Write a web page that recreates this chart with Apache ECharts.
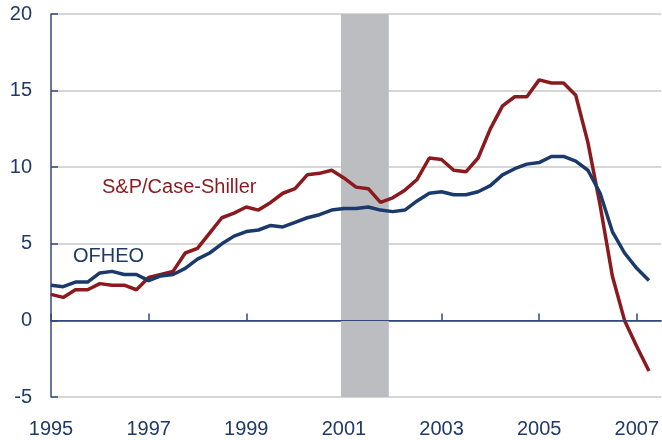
<!DOCTYPE html>
<html>
<head>
<meta charset="utf-8">
<script src="https://cdn.jsdelivr.net/npm/echarts@6/dist/echarts.min.js"></script>
<style>
  html, body { margin: 0; padding: 0; background: #fff; }
  #chart { width: 662px; height: 440px; }
</style>
</head>
<body>
<div id="chart"></div>
<script>
// quarterly, 1995Q1 .. 2007Q2
const startYear = 1995
const caseShiller = [
  1.7, 1.5, 2.0, 2.0, 2.4, 2.3, 2.3, 2.0,
  2.8, 3.0, 3.2, 4.4, 4.7, 5.7, 6.7, 7.0,
  7.4, 7.2, 7.7, 8.3, 8.6, 9.5, 9.6, 9.8,
  9.3, 8.7, 8.6, 7.7, 8.0, 8.5, 9.2, 10.6,
  10.5, 9.8, 9.7, 10.6, 12.5, 14.0, 14.6, 14.6,
  15.7, 15.5, 15.5, 14.7, 11.6, 7.5, 2.9, 0.0,
  -1.7, -3.3
]
const ofheo = [
  2.3, 2.2, 2.5, 2.5, 3.1, 3.2, 3.0, 3.0,
  2.6, 2.9, 3.0, 3.4, 4.0, 4.4, 5.0, 5.5,
  5.8, 5.9, 6.2, 6.1, 6.4, 6.7, 6.9, 7.2,
  7.3, 7.3, 7.4, 7.2, 7.1, 7.2, 7.8, 8.3,
  8.4, 8.2, 8.2, 8.4, 8.8, 9.5, 9.9, 10.2,
  10.3, 10.7, 10.7, 10.4, 9.8, 8.3, 5.8, 4.4,
  3.4, 2.6
]
const yearTicks = [1995, 1997, 1999, 2001, 2003, 2005, 2007]
const recession = [2000.94, 2001.92]

const axisColor = '#34497a'
const textColor = '#1f3a68'
const red = '#8b1a1f'
const blue = '#1b3a6b'

const toPoints = arr => arr.map((v, i) => [startYear + i / 4, v])

const chart = echarts.init(document.getElementById('chart'))
chart.setOption({
  animation: false,
  grid: { left: 51, right: 0, top: 14, bottom: 43 },
  xAxis: {
    type: 'value',
    min: 1995,
    max: 2007.5,
    axisLine: { lineStyle: { color: axisColor, width: 1.5 } },
    axisTick: {
      show: true,
      inside: true,
      length: 7,
      customValues: yearTicks,
      lineStyle: { color: axisColor, width: 1.5 }
    },
    axisLabel: {
      customValues: yearTicks,
      formatter: v => String(v),
      margin: 22,
      fontSize: 20,
      fontFamily: 'Liberation Sans',
      color: textColor
    },
    splitLine: { show: false }
  },
  yAxis: {
    type: 'value',
    min: -5,
    max: 20,
    interval: 5,
    axisLine: { show: true, lineStyle: { color: axisColor, width: 1.5 } },
    axisTick: { show: true, inside: true, length: 7, lineStyle: { color: axisColor, width: 1.5 } },
    axisLabel: {
      margin: 19,
      fontSize: 20,
      fontFamily: 'Liberation Sans',
      color: textColor
    },
    splitLine: { lineStyle: { color: '#c8c8c8', width: 1.5 } }
  },
  graphic: [
    {
      type: 'text', left: 102, top: 177,
      style: { text: 'S&P/Case-Shiller', fill: red, font: '20px "Liberation Sans"' }
    },
    {
      type: 'text', left: 73, top: 246,
      style: { text: 'OFHEO', fill: textColor, font: '20px "Liberation Sans"' }
    }
  ],
  series: [
    {
      type: 'line',
      name: 'S&P/Case-Shiller',
      data: toPoints(caseShiller),
      showSymbol: false,
      lineStyle: { color: red, width: 3.5 },
      z: 3,
      markArea: {
        silent: true,
        itemStyle: { color: '#bcbdc1' },
        data: [[{ xAxis: recession[0] }, { xAxis: recession[1] }]]
      },
      markLine: {
        silent: true,
        symbol: 'none',
        label: { show: false },
        lineStyle: { color: axisColor, width: 1.2, type: 'solid' },
        data: [{ yAxis: 0 }]
      }
    },
    {
      type: 'line',
      name: 'OFHEO',
      data: toPoints(ofheo),
      showSymbol: false,
      lineStyle: { color: blue, width: 3.5 },
      z: 4
    }
  ]
})
</script>
</body>
</html>
